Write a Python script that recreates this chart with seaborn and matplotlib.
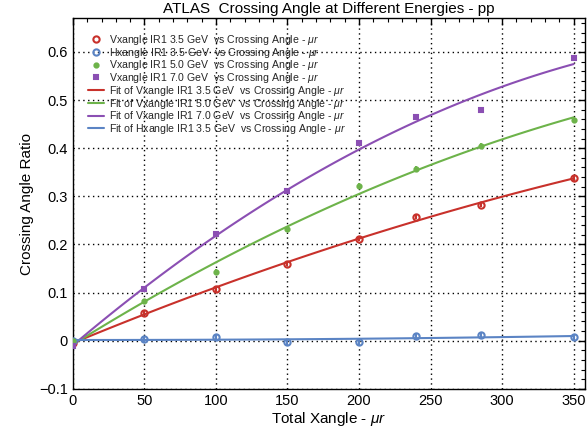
import numpy as np
import pandas as pd
import matplotlib
matplotlib.use("Agg")
import matplotlib.pyplot as plt
import seaborn as sns
from matplotlib.ticker import MultipleLocator

angle = [0, 50, 100, 150, 200, 240, 285, 350]
v35 = [-0.005, 0.058, 0.107, 0.160, 0.212, 0.258, 0.282, 0.337]
h35 = [0.000, 0.003, 0.008, -0.003, -0.003, 0.010, 0.012, 0.007]
v50 = [0.000, 0.082, 0.142, 0.233, 0.322, 0.357, 0.405, 0.458]
v70 = [-0.010, 0.107, 0.222, 0.310, 0.410, 0.465, 0.480, 0.587]
err = [0.005, 0.005, 0.006, 0.005, 0.005, 0.005, 0.005, 0.006]

c_red = "#c8312b"
c_blue = "#5b84c4"
c_green = "#6db34a"
c_purple = "#8b4fb3"

sns.set_theme(style="white")
plt.rcParams["font.family"] = ["Liberation Sans", "DejaVu Sans"]
plt.rcParams["mathtext.fontset"] = "custom"
plt.rcParams["mathtext.it"] = "Liberation Sans:italic"
plt.rcParams["mathtext.rm"] = "Liberation Sans"

fig = plt.figure(figsize=(5.88, 4.33), dpi=100)
ax = fig.add_axes([0.124, 0.102, 0.871, 0.856])

series = [
    ("Vxangle IR1 3.5 GeV  vs Crossing Angle - $\\mu r$", v35, c_red, "o", 4.5, "none"),
    ("Hxangle IR1 3.5 GeV  vs Crossing Angle - $\\mu r$", h35, c_blue, "o", 4.5, "none"),
    ("Vxangle IR1 5.0 GeV  vs Crossing Angle - $\\mu r$", v50, c_green, "o", 3.0, None),
    ("Vxangle IR1 7.0 GeV  vs Crossing Angle - $\\mu r$", v70, c_purple, "s", 3.0, None),
]
handles = []
for lab, ys, col, mk, ms, fc in series:
    ax.errorbar(angle, ys, yerr=err, fmt="none", ecolor=col, elinewidth=1.5, capsize=0, zorder=3)
    h, = ax.plot(angle, ys, linestyle="none", marker=mk, markersize=ms,
                 markerfacecolor=(fc if fc else col), markeredgecolor=col,
                 markeredgewidth=1.5, label=lab, zorder=4)
    handles.append(h)

xfit = np.linspace(0, 350, 100)
fits = [
    ("Fit of Vxangle IR1 3.5 GeV  vs Crossing Angle - $\\mu r$", v35, c_red),
    ("Fit of Vxangle IR1 5.0 GeV  vs Crossing Angle - $\\mu r$", v50, c_green),
    ("Fit of Vxangle IR1 7.0 GeV  vs Crossing Angle - $\\mu r$", v70, c_purple),
    ("Fit of Hxangle IR1 3.5 GeV  vs Crossing Angle - $\\mu r$", h35, c_blue),
]
for lab, ys, col in fits:
    coef = np.polyfit(angle, ys, 2)
    df = pd.DataFrame({"x": xfit, "y": np.polyval(coef, xfit)})
    sns.lineplot(data=df, x="x", y="y", ax=ax, color=col, linewidth=1.5, label=lab, zorder=2)
    handles.append(ax.lines[-1])

ax.set_xlim(0, 358)
ax.set_ylim(-0.1, 0.67)
ax.xaxis.set_major_locator(MultipleLocator(50))
ax.xaxis.set_minor_locator(MultipleLocator(10))
ax.yaxis.set_minor_locator(MultipleLocator(0.02))
ax.set_yticks([-0.1, 0, 0.1, 0.2, 0.3, 0.4, 0.5, 0.6])
ax.set_yticklabels(["\u22120.1", "0", "0.1", "0.2", "0.3", "0.4", "0.5", "0.6"])
ax.tick_params(which="both", direction="in", top=True, right=True, colors="black", labelsize=10.5)
ax.tick_params(which="major", length=5, width=1)
ax.tick_params(which="minor", length=3, width=0.8)
ax.grid(True, which="major", linestyle=(0, (1, 2.5)), color="black", linewidth=1)
for s in ax.spines.values():
    s.set_color("black")
    s.set_linewidth(1)

ax.set_xlabel("Total Xangle - $\\mu r$", fontsize=11, color="black", labelpad=2)
ax.set_ylabel("Crossing Angle Ratio", fontsize=11, color="black")
ax.set_title("ATLAS  Crossing Angle at Different Energies - pp", fontsize=11, color="black", pad=4)

ax.legend(handles=handles, labels=[h.get_label() for h in handles],
          loc="upper left", frameon=False, fontsize=7.6, handlelength=1.5,
          labelspacing=-0.12, borderaxespad=1.0, handletextpad=0.5, numpoints=1)

fig.savefig("out.png", dpi=100)
